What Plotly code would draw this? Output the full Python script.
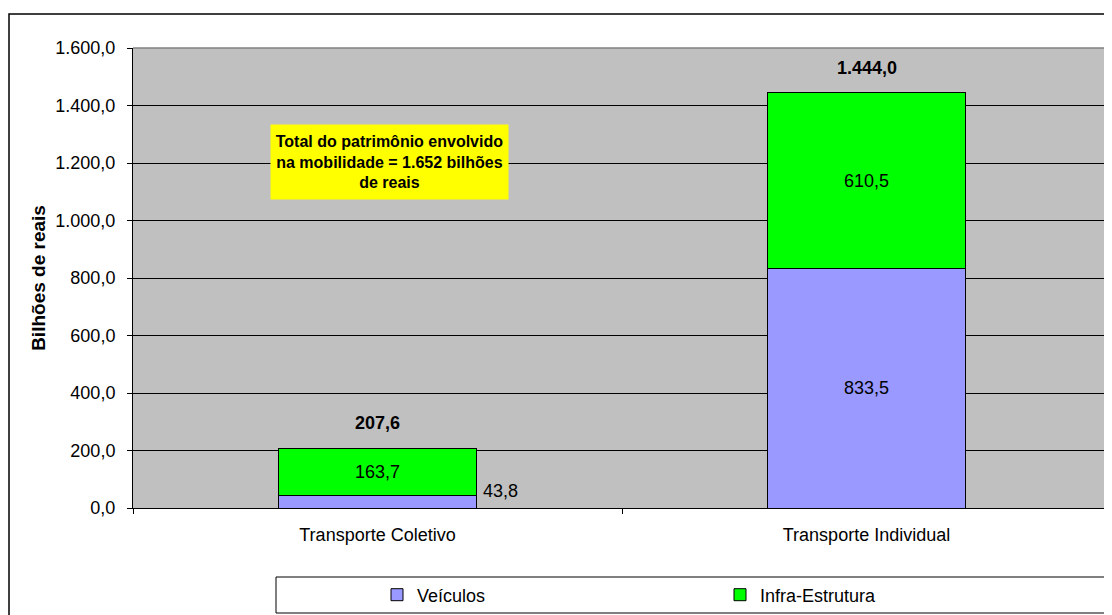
import plotly.graph_objects as go

categories = ["Transporte Coletivo", "Transporte Individual"]
veiculos = [43.8, 833.5]
infra = [163.7, 610.5]
totals = [207.6, 1444.0]
y_ticks = [0, 200, 400, 600, 800, 1000, 1200, 1400, 1600]

def fmt(v, dec=1):
    s = f"{v:,.{dec}f}"
    return s.replace(",", "X").replace(".", ",").replace("X", ".")

FONT = "Arial, Liberation Sans, sans-serif"
FS = 18

# figure pixel geometry (page shows figure offset by 8px)
W, H = 1104, 607
L, T = 125, 40
PW, PH = 978, 460
B = H - T - PH
R = W - L - PW

def px(x):
    return (x - L) / PW

def py(y):
    return (T + PH - y) / PH

fig = go.Figure()
fig.add_trace(go.Bar(
    name="Veículos", x=categories, y=veiculos,
    marker=dict(color="#9999FF", line=dict(color="#000000", width=1)),
    text=["", fmt(veiculos[1])], textposition="inside", insidetextanchor="middle",
    textfont=dict(color="#000000", size=FS, family=FONT), width=0.403,
))
fig.add_trace(go.Bar(
    name="Infra-Estrutura", x=categories, y=infra,
    marker=dict(color="#00FF00", line=dict(color="#000000", width=1)),
    text=[fmt(v) for v in infra], textposition="inside", insidetextanchor="middle",
    textfont=dict(color="#000000", size=FS, family=FONT), width=0.403,
))

for c, t in zip(categories, totals):
    fig.add_annotation(x=c, y=t, text=f"<b>{fmt(t)}</b>", showarrow=False,
                       yshift=25, font=dict(size=18, color="#000000", family=FONT))

fig.add_annotation(x=categories[0], y=veiculos[0] / 2, text=fmt(veiculos[0]), showarrow=False,
                   xanchor="left", xshift=103, yshift=11,
                   font=dict(size=FS, color="#000000", family=FONT))

fig.add_annotation(xref="paper", yref="paper", x=px(381.5), y=py(154),
                   xanchor="center", yanchor="middle",
                   text="<b>Total do patrimônio envolvido<br>na mobilidade = 1.652 bilhões<br>de reais</b>",
                   showarrow=False, bgcolor="#FFFF00", width=235, height=72,
                   font=dict(size=16, color="#000000", family=FONT), align="center")

# outer chart border
fig.add_shape(type="rect", xref="paper", yref="paper",
              x0=px(1), x1=1.05, y0=-0.3, y1=py(6),
              line=dict(color="#000000", width=1.5), layer="below")
# legend frame
fig.add_shape(type="rect", xref="paper", yref="paper",
              x0=px(268), x1=1.05, y0=py(605), y1=py(569),
              line=dict(color="#000000", width=1), fillcolor="#FFFFFF", layer="below")
# plot area top border
fig.add_shape(type="line", xref="paper", yref="paper", x0=0, x1=1, y0=1, y1=1,
              line=dict(color="#808080", width=1.5))

fig.update_layout(
    width=W, height=H,
    barmode="stack",
    separators=",.",
    plot_bgcolor="#C0C0C0",
    paper_bgcolor="#FFFFFF",
    margin=dict(l=L, r=R, t=T, b=B, autoexpand=False),
    font=dict(family=FONT, size=FS, color="#000000"),
    showlegend=True,
    legend=dict(orientation="h", x=px(369), y=py(587), xanchor="left", yanchor="middle",
                entrywidth=298, entrywidthmode="pixels", bgcolor="rgba(0,0,0,0)",
                font=dict(size=FS, family=FONT), traceorder="normal"),
    xaxis=dict(showline=True, linecolor="#000000", linewidth=1, ticks="outside", tickson="boundaries",
               ticklen=5, tickcolor="#000000", tickfont=dict(size=FS), ticklabelstandoff=10,
               automargin=False),
    yaxis=dict(title=dict(text="<b>Bilhões de reais</b>", font=dict(size=19), standoff=4),
               range=[0, 1600], tickvals=y_ticks, ticktext=[fmt(v) for v in y_ticks],
               showgrid=True, gridcolor="#000000", gridwidth=1, showline=True, linecolor="#000000",
               ticks="outside", ticklen=5, tickcolor="#000000", tickfont=dict(size=FS),
               ticklabelstandoff=8, zeroline=False, automargin=False),
)

fig.write_html("out.html")
